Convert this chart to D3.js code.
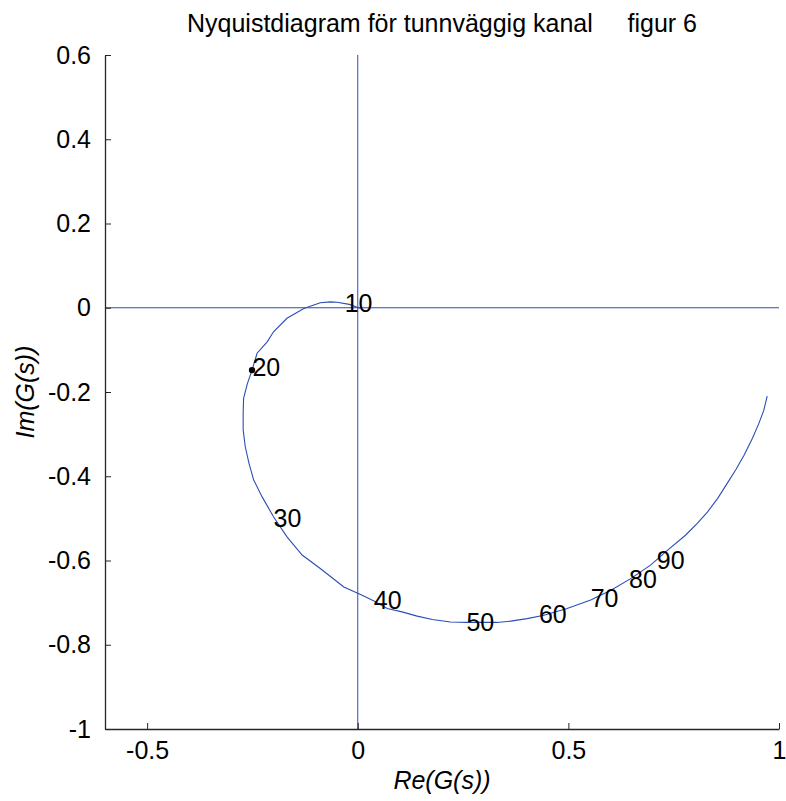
<!DOCTYPE html>
<html><head><meta charset="utf-8">
<script src="https://cdn.jsdelivr.net/npm/d3@7"></script>
<style>
html,body{margin:0;padding:0;background:#fff;}
text{font-family:"Liberation Sans",Arial,sans-serif;}
</style></head>
<body>
<svg id="chart" width="786" height="801"></svg>
<script>
const titleText = "Nyquistdiagram för tunnväggig kanal     figur 6";
const xLabel = "Re(G(s))";
const yLabel = "Im(G(s))";
const xTicks = [-0.5, 0, 0.5, 1];
const yTicks = [0.6, 0.4, 0.2, 0, -0.2, -0.4, -0.6, -0.8, -1];
const xDomain = [-0.6, 1];
const yDomain = [-1, 0.6];

// Nyquist curve (real part, imaginary part)
const curveRe = [0.005, -0.02, -0.049, -0.065, -0.089, -0.128, -0.168, -0.2, -0.215, -0.239, -0.251, -0.262, -0.271, -0.272, -0.272, -0.267, -0.258, -0.247, -0.227, -0.2, -0.168, -0.132, -0.089, -0.033, 0, 0.018, 0.042, 0.07, 0.105, 0.141, 0.177, 0.22, 0.26, 0.291, 0.33, 0.363, 0.402, 0.442, 0.497, 0.553, 0.6, 0.648, 0.695, 0.735, 0.778, 0.806, 0.83, 0.854, 0.877, 0.897, 0.917, 0.937, 0.952, 0.964, 0.972];
const curveIm = [-0.001, 0.008, 0.013, 0.014, 0.012, -0.002, -0.025, -0.057, -0.081, -0.108, -0.148, -0.18, -0.215, -0.25, -0.29, -0.33, -0.37, -0.409, -0.449, -0.496, -0.544, -0.587, -0.619, -0.663, -0.678, -0.686, -0.698, -0.714, -0.722, -0.732, -0.74, -0.746, -0.747, -0.747, -0.747, -0.744, -0.738, -0.73, -0.714, -0.694, -0.671, -0.643, -0.611, -0.576, -0.54, -0.512, -0.485, -0.453, -0.417, -0.385, -0.35, -0.31, -0.275, -0.243, -0.21];

// frequency labels
const labelText = ["10", "20", "30", "40", "50", "60", "70", "80", "90"];
const labelRe = [-0.031, -0.25, -0.2, 0.038, 0.258, 0.43, 0.553, 0.644, 0.71];
const labelIm = [0.012, -0.14, -0.5, -0.694, -0.746, -0.726, -0.69, -0.643, -0.599];
const markerRe = [-0.251];
const markerIm = [-0.148];

const svg = d3.select("#chart");
const L = 105, R = 779, T = 55, B = 729;
const x = d3.scaleLinear().domain(xDomain).range([L, R]);
const y = d3.scaleLinear().domain(yDomain).range([B, T]);
const blue = "#2b4db8";
const fs = 25;

// reference lines
svg.append("line").attr("x1", x(xDomain[0])).attr("x2", x(xDomain[1])).attr("y1", y(0)).attr("y2", y(0))
  .attr("stroke", blue).attr("stroke-width", 1);
svg.append("line").attr("x1", x(0)).attr("x2", x(0)).attr("y1", y(yDomain[0])).attr("y2", y(yDomain[1]))
  .attr("stroke", blue).attr("stroke-width", 1);

// curve
const pts = curveRe.map((r, i) => [r, curveIm[i]]);
svg.append("path").datum(pts)
  .attr("d", d3.line().x(d => x(d[0])).y(d => y(d[1])))
  .attr("fill", "none").attr("stroke", blue).attr("stroke-width", 1.1);

// axes
const xAxis = d3.axisBottom(x).tickValues(xTicks).tickSizeInner(-6).tickSizeOuter(0).tickPadding(12)
  .tickFormat(d => d3.format("")(d).replace("\u2212", "-"));
const yAxis = d3.axisLeft(y).tickValues(yTicks).tickSizeInner(-6).tickSizeOuter(0).tickPadding(14)
  .tickFormat(d => d3.format("")(d).replace("\u2212", "-"));
const gx = svg.append("g").attr("transform", `translate(0,${B})`).call(xAxis);
const gy = svg.append("g").attr("transform", `translate(${L},0)`).call(yAxis);
[gx, gy].forEach(g => {
  g.select(".domain").attr("stroke", "#262626").attr("stroke-width", 1.3);
  g.selectAll(".tick line").attr("stroke", "#262626");
  g.selectAll(".tick text").attr("fill", "#000").style("font-size", fs + "px")
    .style("font-family", '"Liberation Sans",Arial,sans-serif');
});

// labels on curve
svg.selectAll("text.lab").data(labelText).join("text").attr("class", "lab")
  .attr("x", (d, i) => x(labelRe[i])).attr("y", (d, i) => y(labelIm[i]))
  .attr("dy", "0.36em").style("font-size", fs + "px").attr("fill", "#000").text(d => d);

svg.selectAll("circle.mk").data(markerRe).join("circle").attr("class", "mk")
  .attr("cx", d => x(d)).attr("cy", (d, i) => y(markerIm[i])).attr("r", 3.2).attr("fill", "#000");

// title and axis labels
svg.append("text").attr("x", (L + R) / 2).attr("y", 32).attr("text-anchor", "middle")
  .style("font-size", fs + "px").style("white-space", "pre").attr("fill", "#000").text(titleText);
svg.append("text").attr("x", (L + R) / 2).attr("y", 789).attr("text-anchor", "middle")
  .style("font-size", fs + "px").style("font-style", "italic").attr("fill", "#000").text(xLabel);
svg.append("text").attr("transform", `translate(34,${(T + B) / 2}) rotate(-90)`).attr("text-anchor", "middle")
  .style("font-size", fs + "px").style("font-style", "italic").attr("fill", "#000").text(yLabel);
</script>
</body></html>
